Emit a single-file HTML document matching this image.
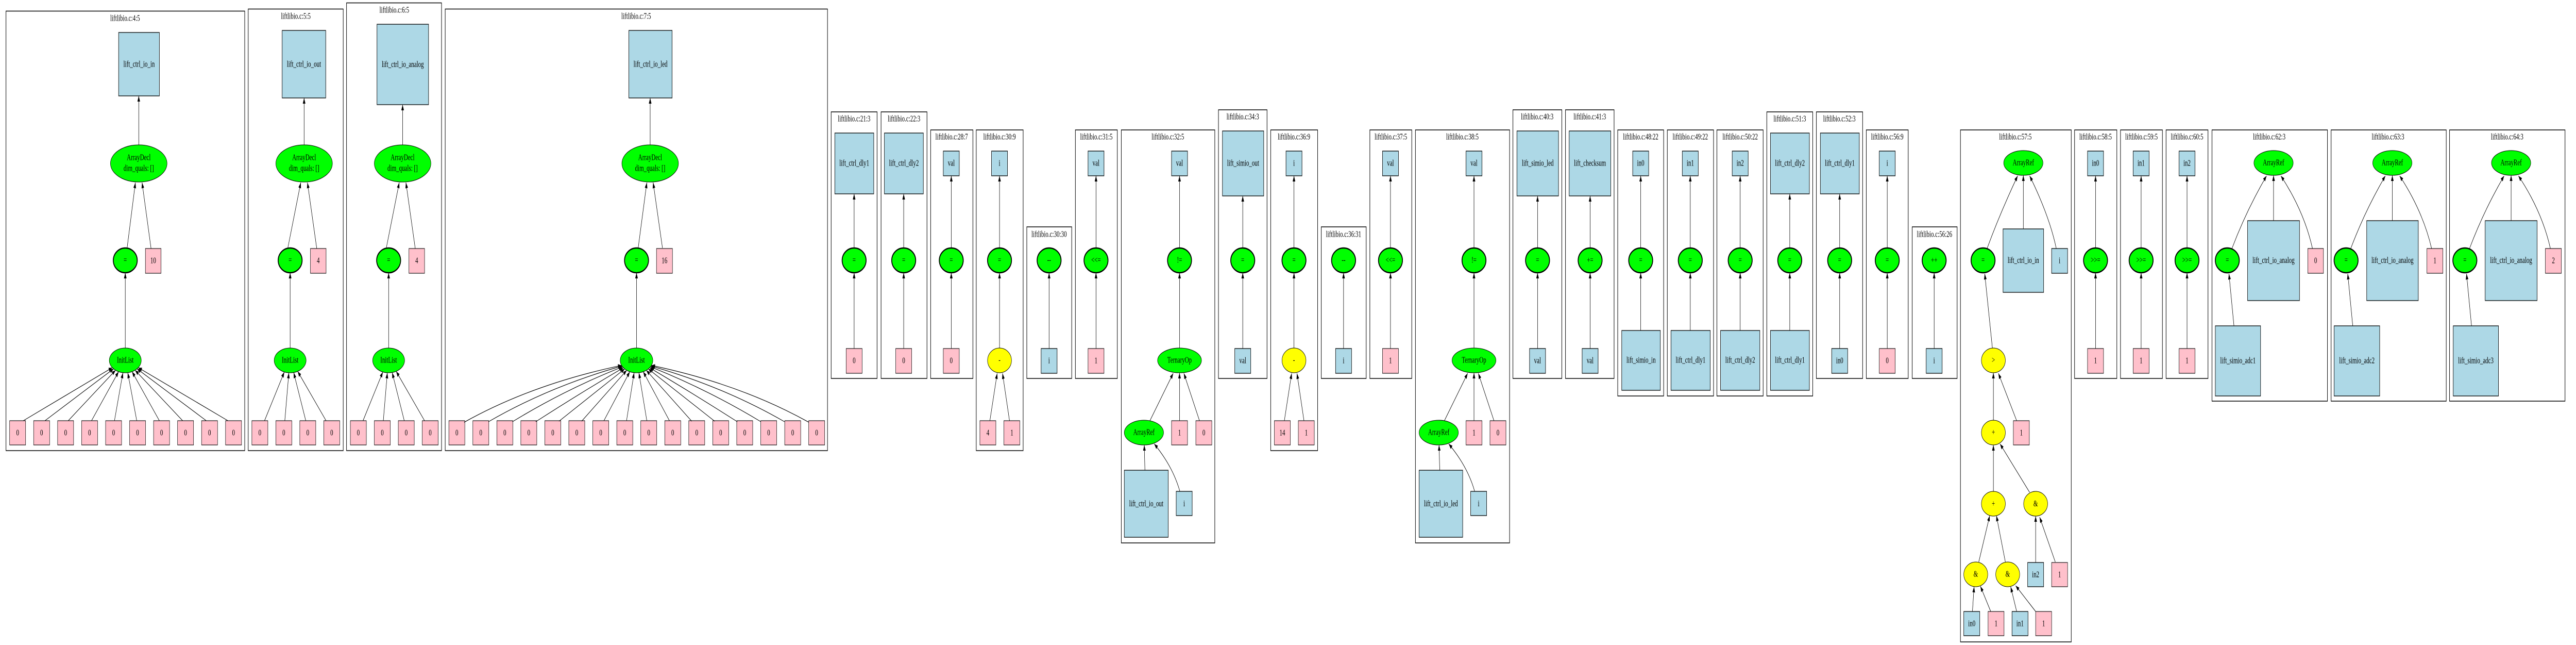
<!DOCTYPE html>
<html><head><meta charset="utf-8"><meta name="viewport" content="width=7742,initial-scale=1"><style>
html,body{margin:0;padding:0;background:#fff;overflow:hidden;width:100%;height:100%}
svg{display:block;position:fixed;left:0;top:0;width:100vw;height:100vh}
text{font-family:"Liberation Serif",serif;font-size:17px;text-anchor:middle;dominant-baseline:central;fill:#000}
.cl{fill:none;stroke:#000;stroke-width:1.5}
.b{fill:#add8e6;stroke:#000;stroke-width:1.3}
.p{fill:#ffc0cb;stroke:#000;stroke-width:1.1}
.g{fill:#00ff00;stroke:#000;stroke-width:1.1}
.g2{fill:#00ff00;stroke:#000;stroke-width:2.6}
.y{fill:#ffff00;stroke:#000;stroke-width:1.1}
.e{fill:none;stroke:#000;stroke-width:1.2;marker-end:url(#a)}
</style></head><body>
<svg viewBox="0 0 7742 1251" preserveAspectRatio="none" xmlns="http://www.w3.org/2000/svg">
<defs><marker id="a" markerWidth="11" markerHeight="8" refX="11" refY="4" orient="auto" markerUnits="userSpaceOnUse"><path d="M0,0L11,4L0,8z" fill="#000"/></marker></defs>

<!-- C1 -->
<rect class="cl" x="18" y="21.5" width="717.5" height="852.5"/>
<text x="376" y="36">liftlibio.c:4:5</text>
<rect class="b" x="356.5" y="63" width="122.5" height="123"/><text x="418" y="124.5">lift_ctrl_io_in</text>
<ellipse class="g" cx="417" cy="317" rx="85" ry="36"/><text x="417" y="306">ArrayDecl</text><text x="417" y="327">dim_quals: []</text>
<ellipse class="g2" cx="376.5" cy="505" rx="36" ry="24"/><text x="376.5" y="505">=</text>
<rect class="p" x="437" y="482" width="47" height="48"/><text x="460.5" y="506">10</text>
<ellipse class="g" cx="376.5" cy="699" rx="48" ry="24"/><text x="376.5" y="699">InitList</text>
<g>
<rect class="p" x="29" y="816" width="48" height="47"/><text x="53" y="840">0</text>
<rect class="p" x="101.1" y="816" width="48" height="47"/><text x="125.1" y="840">0</text>
<rect class="p" x="173.2" y="816" width="48" height="47"/><text x="197.2" y="840">0</text>
<rect class="p" x="245.3" y="816" width="48" height="47"/><text x="269.3" y="840">0</text>
<rect class="p" x="317.4" y="816" width="48" height="47"/><text x="341.4" y="840">0</text>
<rect class="p" x="389.5" y="816" width="48" height="47"/><text x="413.5" y="840">0</text>
<rect class="p" x="461.6" y="816" width="48" height="47"/><text x="485.6" y="840">0</text>
<rect class="p" x="533.7" y="816" width="48" height="47"/><text x="557.7" y="840">0</text>
<rect class="p" x="605.8" y="816" width="48" height="47"/><text x="629.8" y="840">0</text>
<rect class="p" x="677.9" y="816" width="48" height="47"/><text x="701.9" y="840">0</text>
</g>
<path class="e" d="M417,281L417,186"/><path class="e" d="M382,481L407,354"/><path class="e" d="M454,482L427,354"/><path class="e" d="M376.5,675L376.5,529"/>
<path class="e" d="M70,816L337.6,713.1"/><path class="e" d="M135,816L341.4,715.3"/><path class="e" d="M205,816L347.3,718.1"/><path class="e" d="M275,816L356.5,720.8"/><path class="e" d="M344,816L369.4,722.7"/><path class="e" d="M411,816L384,722.7"/><path class="e" d="M479,816L396.8,720.8"/><path class="e" d="M549,816L406,718.1"/><path class="e" d="M620,816L411.9,715.3"/><path class="e" d="M685,816L415.6,713.1"/>

<!-- C2 -->
<rect class="cl" x="746" y="17.5" width="285.5" height="856.5"/>
<text x="889" y="32">liftlibio.c:5:5</text>
<rect class="b" x="848" y="59" width="131" height="131"/><text x="913.5" y="124.5">lift_ctrl_io_out</text>
<ellipse class="g" cx="914" cy="317" rx="85" ry="36"/><text x="914" y="306">ArrayDecl</text><text x="914" y="327">dim_quals: []</text>
<ellipse class="g2" cx="872" cy="505" rx="36" ry="24"/><text x="872" y="505">=</text>
<rect class="p" x="933" y="482" width="47" height="48"/><text x="956.5" y="506">4</text>
<ellipse class="g" cx="872" cy="699" rx="48" ry="24"/><text x="872" y="699">InitList</text>
<rect class="p" x="757" y="816" width="48" height="47"/><text x="781" y="840">0</text>
<rect class="p" x="829" y="816" width="48" height="47"/><text x="853" y="840">0</text>
<rect class="p" x="901" y="816" width="48" height="47"/><text x="925" y="840">0</text>
<rect class="p" x="973" y="816" width="48" height="47"/><text x="997" y="840">0</text>
<path class="e" d="M914,281L914,190"/><path class="e" d="M865,481L904,354"/><path class="e" d="M952,482L924,354"/><path class="e" d="M872,675L872,529"/>
<path class="e" d="M795,816L854.6,721.4"/><path class="e" d="M856,816L868.1,722.9"/><path class="e" d="M919,816L882.6,722.4"/><path class="e" d="M980,816L894.6,720.2"/>

<!-- C3 -->
<rect class="cl" x="1041.5" y="5.6" width="285.5" height="868.4"/>
<text x="1185" y="20">liftlibio.c:6:5</text>
<rect class="b" x="1133" y="47" width="155" height="156"/><text x="1210.5" y="125">lift_ctrl_io_analog</text>
<ellipse class="g" cx="1210" cy="317" rx="85" ry="36"/><text x="1210" y="306">ArrayDecl</text><text x="1210" y="327">dim_quals: []</text>
<ellipse class="g2" cx="1168" cy="505" rx="36" ry="24"/><text x="1168" y="505">=</text>
<rect class="p" x="1229" y="482" width="47" height="48"/><text x="1252.5" y="506">4</text>
<ellipse class="g" cx="1168" cy="699" rx="48" ry="24"/><text x="1168" y="699">InitList</text>
<rect class="p" x="1053" y="816" width="48" height="47"/><text x="1077" y="840">0</text>
<rect class="p" x="1125" y="816" width="48" height="47"/><text x="1149" y="840">0</text>
<rect class="p" x="1197" y="816" width="48" height="47"/><text x="1221" y="840">0</text>
<rect class="p" x="1269" y="816" width="48" height="47"/><text x="1293" y="840">0</text>
<path class="e" d="M1210,281L1210,203"/><path class="e" d="M1161,481L1200,354"/><path class="e" d="M1248,482L1220,354"/><path class="e" d="M1168,675L1168,529"/>
<path class="e" d="M1091,816L1150.6,721.4"/><path class="e" d="M1152,816L1164.1,722.9"/><path class="e" d="M1215,816L1178.6,722.4"/><path class="e" d="M1276,816L1190.6,720.2"/>

<!-- C4 -->
<rect class="cl" x="1338" y="17.5" width="1149" height="856.5"/>
<text x="1912" y="32">liftlibio.c:7:5</text>
<rect class="b" x="1890" y="59" width="130" height="131"/><text x="1955" y="124.5">lift_ctrl_io_led</text>
<ellipse class="g" cx="1954" cy="317" rx="85" ry="36"/><text x="1954" y="306">ArrayDecl</text><text x="1954" y="327">dim_quals: []</text>
<ellipse class="g2" cx="1913" cy="505" rx="36" ry="24"/><text x="1913" y="505">=</text>
<rect class="p" x="1973" y="482" width="48" height="48"/><text x="1997" y="506">16</text>
<ellipse class="g" cx="1913" cy="699" rx="49" ry="24"/><text x="1913" y="699">InitList</text>
<g>
<rect class="p" x="1349" y="816" width="48" height="47"/><text x="1373" y="840">0</text>
<rect class="p" x="1421.1" y="816" width="48" height="47"/><text x="1445.1" y="840">0</text>
<rect class="p" x="1493.2" y="816" width="48" height="47"/><text x="1517.2" y="840">0</text>
<rect class="p" x="1565.3" y="816" width="48" height="47"/><text x="1589.3" y="840">0</text>
<rect class="p" x="1637.4" y="816" width="48" height="47"/><text x="1661.4" y="840">0</text>
<rect class="p" x="1709.5" y="816" width="48" height="47"/><text x="1733.5" y="840">0</text>
<rect class="p" x="1781.6" y="816" width="48" height="47"/><text x="1805.6" y="840">0</text>
<rect class="p" x="1853.7" y="816" width="48" height="47"/><text x="1877.7" y="840">0</text>
<rect class="p" x="1925.8" y="816" width="48" height="47"/><text x="1949.8" y="840">0</text>
<rect class="p" x="1997.9" y="816" width="48" height="47"/><text x="2021.9" y="840">0</text>
<rect class="p" x="2070" y="816" width="48" height="47"/><text x="2094" y="840">0</text>
<rect class="p" x="2142.1" y="816" width="48" height="47"/><text x="2166.1" y="840">0</text>
<rect class="p" x="2214.2" y="816" width="48" height="47"/><text x="2238.2" y="840">0</text>
<rect class="p" x="2286.3" y="816" width="48" height="47"/><text x="2310.3" y="840">0</text>
<rect class="p" x="2358.4" y="816" width="48" height="47"/><text x="2382.4" y="840">0</text>
<rect class="p" x="2430.5" y="816" width="48" height="47"/><text x="2454.5" y="840">0</text>
</g>
<path class="e" d="M1954,281L1954,190"/><path class="e" d="M1918,481L1944,354"/><path class="e" d="M1991,481L1963,354"/><path class="e" d="M1913,675L1913,529"/>
<path class="e" d="M1395,819Q1600,745 1868.2,708.7"/><path class="e" d="M1468,818Q1650,750 1869.4,709.9"/><path class="e" d="M1540,818Q1700,755 1871,711.4"/><path class="e" d="M1610,818Q1750,760 1873.6,713.3"/><path class="e" d="M1680,817L1877.5,715.5"/><path class="e" d="M1748,817L1883.6,718.2"/><path class="e" d="M1815,816L1892.9,720.9"/><path class="e" d="M1883,816L1905.8,722.7"/><path class="e" d="M1944,816L1920.2,722.7"/><path class="e" d="M2012,816L1933.1,720.9"/><path class="e" d="M2079,817L1942.4,718.2"/><path class="e" d="M2148,817L1948.5,715.5"/><path class="e" d="M2216,818Q2075,760 1952.4,713.3"/><path class="e" d="M2287,818Q2125,755 1955,711.4"/><path class="e" d="M2358,818Q2175,750 1956.6,709.9"/><path class="e" d="M2431,819Q2225,745 1957.8,708.7"/>

<!-- C5 -->
<rect class="cl" x="2498" y="217" width="138" height="517"/><text x="2567" y="231">liftlibio.c:21:3</text>
<rect class="b" x="2509" y="258" width="117" height="118"/><text x="2567.5" y="317">lift_ctrl_dly1</text>
<ellipse class="g2" cx="2567" cy="505" rx="36" ry="24"/><text x="2567" y="505">=</text>
<rect class="p" x="2543" y="676" width="48" height="48"/><text x="2567" y="700">0</text>
<path class="e" d="M2567,676L2567,529"/><path class="e" d="M2567,481L2567,376"/>
<!-- C6 -->
<rect class="cl" x="2648" y="217" width="138" height="517"/><text x="2717" y="231">liftlibio.c:22:3</text>
<rect class="b" x="2658" y="258" width="117" height="118"/><text x="2716.5" y="317">lift_ctrl_dly2</text>
<ellipse class="g2" cx="2716" cy="505" rx="36" ry="24"/><text x="2716" y="505">=</text>
<rect class="p" x="2692" y="676" width="48" height="48"/><text x="2716" y="700">0</text>
<path class="e" d="M2716,676L2716,529"/><path class="e" d="M2716,481L2716,376"/>
<!-- C7 -->
<rect class="cl" x="2797" y="252" width="127" height="482"/><text x="2860" y="266">liftlibio.c:28:7</text>
<rect class="b" x="2835" y="293" width="48" height="48"/><text x="2859" y="317">val</text>
<ellipse class="g2" cx="2859" cy="505" rx="36" ry="24"/><text x="2859" y="505">=</text>
<rect class="p" x="2835" y="676" width="48" height="48"/><text x="2859" y="700">0</text>
<path class="e" d="M2859,676L2859,529"/><path class="e" d="M2859,481L2859,341"/>
<!-- C8 -->
<rect class="cl" x="2934" y="252" width="141" height="622"/><text x="3004" y="266">liftlibio.c:30:9</text>
<rect class="b" x="2980" y="293" width="48" height="48"/><text x="3004" y="317">i</text>
<ellipse class="g2" cx="3004" cy="505" rx="36" ry="24"/><text x="3004" y="505">=</text>
<ellipse class="y" cx="3004" cy="699" rx="36" ry="24"/><text x="3004" y="699">-</text>
<rect class="p" x="2945" y="816" width="48" height="47"/><text x="2969" y="840">4</text>
<rect class="p" x="3017" y="816" width="48" height="47"/><text x="3041" y="840">1</text>
<path class="e" d="M3004,675L3004,529"/><path class="e" d="M3004,481L3004,341"/><path class="e" d="M2975,816L2997,724"/><path class="e" d="M3034,816L3013,724"/>
<!-- C9 -->
<rect class="cl" x="3086" y="440" width="135" height="294"/><text x="3153" y="455">liftlibio.c:30:30</text>
<ellipse class="g2" cx="3153" cy="505" rx="36" ry="24"/><text x="3153" y="505">--</text>
<rect class="b" x="3129" y="676" width="48" height="48"/><text x="3153" y="700">i</text>
<path class="e" d="M3153,676L3153,529"/>
<!-- C10 -->
<rect class="cl" x="3232" y="252" width="126" height="482"/><text x="3295" y="266">liftlibio.c:31:5</text>
<rect class="b" x="3270" y="293" width="48" height="48"/><text x="3294" y="317">val</text>
<ellipse class="g2" cx="3294" cy="505" rx="36" ry="24"/><text x="3294" y="505">&lt;&lt;=</text>
<rect class="p" x="3270" y="676" width="48" height="48"/><text x="3294" y="700">1</text>
<path class="e" d="M3294,676L3294,529"/><path class="e" d="M3294,481L3294,341"/>
<!-- C11 -->
<rect class="cl" x="3370" y="252" width="281" height="801"/><text x="3510" y="266">liftlibio.c:32:5</text>
<rect class="b" x="3521" y="293" width="48" height="48"/><text x="3545" y="317">val</text>
<ellipse class="g2" cx="3545" cy="505" rx="36" ry="24"/><text x="3545" y="505">!=</text>
<ellipse class="g" cx="3545" cy="699" rx="66" ry="24"/><text x="3545" y="699">TernaryOp</text>
<ellipse class="g" cx="3438" cy="839" rx="59" ry="24"/><text x="3438" y="839">ArrayRef</text>
<rect class="p" x="3521" y="816" width="48" height="47"/><text x="3545" y="840">1</text>
<rect class="p" x="3594" y="816" width="48" height="47"/><text x="3618" y="840">0</text>
<rect class="b" x="3379" y="912" width="132" height="130"/><text x="3445" y="977">lift_ctrl_io_out</text>
<rect class="b" x="3535" y="953" width="48" height="47"/><text x="3559" y="977">i</text>
<path class="e" d="M3545,481L3545,341"/><path class="e" d="M3545,675L3545,529"/><path class="e" d="M3456,816L3526,724"/><path class="e" d="M3545,816L3545,723"/><path class="e" d="M3605,816L3558,724"/><path class="e" d="M3441,912L3439,863"/><path class="e" d="M3546,953Q3525,905 3469,861"/>
<!-- C12 -->
<rect class="cl" x="3662" y="213" width="146" height="521"/><text x="3735" y="227">liftlibio.c:34:3</text>
<rect class="b" x="3674" y="254" width="124" height="126"/><text x="3736" y="317">lift_simio_out</text>
<ellipse class="g2" cx="3735" cy="505" rx="36" ry="24"/><text x="3735" y="505">=</text>
<rect class="b" x="3711" y="676" width="48" height="48"/><text x="3735" y="700">val</text>
<path class="e" d="M3735,676L3735,529"/><path class="e" d="M3735,481L3735,380"/>
<!-- C13 -->
<rect class="cl" x="3819" y="252" width="141" height="622"/><text x="3889" y="266">liftlibio.c:36:9</text>
<rect class="b" x="3865" y="293" width="48" height="48"/><text x="3889" y="317">i</text>
<ellipse class="g2" cx="3889" cy="505" rx="36" ry="24"/><text x="3889" y="505">=</text>
<ellipse class="y" cx="3889" cy="699" rx="36" ry="24"/><text x="3889" y="699">-</text>
<rect class="p" x="3830" y="816" width="48" height="47"/><text x="3854" y="840">14</text>
<rect class="p" x="3902" y="816" width="48" height="47"/><text x="3926" y="840">1</text>
<path class="e" d="M3889,675L3889,529"/><path class="e" d="M3889,481L3889,341"/><path class="e" d="M3860,816L3882,724"/><path class="e" d="M3919,816L3898,724"/>
<!-- C14 -->
<rect class="cl" x="3971" y="440" width="135" height="294"/><text x="4038" y="455">liftlibio.c:36:31</text>
<ellipse class="g2" cx="4038" cy="505" rx="36" ry="24"/><text x="4038" y="505">--</text>
<rect class="b" x="4014" y="676" width="48" height="48"/><text x="4038" y="700">i</text>
<path class="e" d="M4038,676L4038,529"/>
<!-- C15 -->
<rect class="cl" x="4117" y="252" width="126" height="482"/><text x="4180" y="266">liftlibio.c:37:5</text>
<rect class="b" x="4155" y="293" width="48" height="48"/><text x="4179" y="317">val</text>
<ellipse class="g2" cx="4179" cy="505" rx="36" ry="24"/><text x="4179" y="505">&lt;&lt;=</text>
<rect class="p" x="4155" y="676" width="48" height="48"/><text x="4179" y="700">1</text>
<path class="e" d="M4179,676L4179,529"/><path class="e" d="M4179,481L4179,341"/>
<!-- C16 -->
<rect class="cl" x="4254" y="252" width="283" height="801"/><text x="4395" y="266">liftlibio.c:38:5</text>
<rect class="b" x="4406" y="293" width="48" height="48"/><text x="4430" y="317">val</text>
<ellipse class="g2" cx="4430" cy="505" rx="36" ry="24"/><text x="4430" y="505">!=</text>
<ellipse class="g" cx="4430" cy="699" rx="66" ry="24"/><text x="4430" y="699">TernaryOp</text>
<ellipse class="g" cx="4324" cy="839" rx="59" ry="24"/><text x="4324" y="839">ArrayRef</text>
<rect class="p" x="4406" y="816" width="48" height="47"/><text x="4430" y="840">1</text>
<rect class="p" x="4478" y="816" width="48" height="47"/><text x="4502" y="840">0</text>
<rect class="b" x="4265" y="912" width="131" height="130"/><text x="4330.5" y="977">lift_ctrl_io_led</text>
<rect class="b" x="4420" y="953" width="48" height="47"/><text x="4444" y="977">i</text>
<path class="e" d="M4430,481L4430,341"/><path class="e" d="M4430,675L4430,529"/><path class="e" d="M4341,816L4411,724"/><path class="e" d="M4430,816L4430,723"/><path class="e" d="M4490,816L4443,724"/><path class="e" d="M4327,912L4325,863"/><path class="e" d="M4432,953Q4411,905 4354,861"/>
<!-- C17 -->
<rect class="cl" x="4547" y="213" width="147" height="521"/><text x="4620" y="227">liftlibio.c:40:3</text>
<rect class="b" x="4559" y="254" width="125" height="126"/><text x="4621.5" y="317">lift_simio_led</text>
<ellipse class="g2" cx="4621" cy="505" rx="36" ry="24"/><text x="4621" y="505">=</text>
<rect class="b" x="4597" y="676" width="48" height="48"/><text x="4621" y="700">val</text>
<path class="e" d="M4621,676L4621,529"/><path class="e" d="M4621,481L4621,380"/>
<!-- C18 -->
<rect class="cl" x="4705" y="213" width="146" height="521"/><text x="4778" y="227">liftlibio.c:41:3</text>
<rect class="b" x="4716" y="254" width="125" height="126"/><text x="4778.5" y="317">lift_checksum</text>
<ellipse class="g2" cx="4779" cy="505" rx="36" ry="24"/><text x="4779" y="505">+=</text>
<rect class="b" x="4755" y="676" width="48" height="48"/><text x="4779" y="700">val</text>
<path class="e" d="M4779,676L4779,529"/><path class="e" d="M4779,481L4779,380"/>
<!-- C19 -->
<rect class="cl" x="4862" y="252" width="138" height="516"/><text x="4931" y="266">liftlibio.c:48:22</text>
<rect class="b" x="4907" y="293" width="48" height="48"/><text x="4931" y="317">in0</text>
<ellipse class="g2" cx="4931" cy="505" rx="36" ry="24"/><text x="4931" y="505">=</text>
<rect class="b" x="4874" y="641" width="116" height="116"/><text x="4932" y="699">lift_simio_in</text>
<path class="e" d="M4931,641L4931,529"/><path class="e" d="M4931,481L4931,341"/>
<!-- C20 -->
<rect class="cl" x="5011" y="252" width="139" height="516"/><text x="5080" y="266">liftlibio.c:49:22</text>
<rect class="b" x="5056" y="293" width="48" height="48"/><text x="5080" y="317">in1</text>
<ellipse class="g2" cx="5080" cy="505" rx="36" ry="24"/><text x="5080" y="505">=</text>
<rect class="b" x="5022" y="641" width="118" height="116"/><text x="5081" y="699">lift_ctrl_dly1</text>
<path class="e" d="M5080,641L5080,529"/><path class="e" d="M5080,481L5080,341"/>
<!-- C21 -->
<rect class="cl" x="5160" y="252" width="139" height="516"/><text x="5230" y="266">liftlibio.c:50:22</text>
<rect class="b" x="5206" y="293" width="48" height="48"/><text x="5230" y="317">in2</text>
<ellipse class="g2" cx="5230" cy="505" rx="36" ry="24"/><text x="5230" y="505">=</text>
<rect class="b" x="5171" y="641" width="118" height="116"/><text x="5230" y="699">lift_ctrl_dly2</text>
<path class="e" d="M5230,641L5230,529"/><path class="e" d="M5230,481L5230,341"/>
<!-- C22 -->
<rect class="cl" x="5310" y="217" width="138" height="551"/><text x="5379" y="231">liftlibio.c:51:3</text>
<rect class="b" x="5321" y="258" width="117" height="118"/><text x="5379.5" y="317">lift_ctrl_dly2</text>
<ellipse class="g2" cx="5379" cy="505" rx="36" ry="24"/><text x="5379" y="505">=</text>
<rect class="b" x="5321" y="641" width="117" height="116"/><text x="5379.5" y="699">lift_ctrl_dly1</text>
<path class="e" d="M5379,641L5379,529"/><path class="e" d="M5379,481L5379,376"/>
<!-- C23 -->
<rect class="cl" x="5459" y="217" width="139" height="517"/><text x="5528" y="231">liftlibio.c:52:3</text>
<rect class="b" x="5471" y="258" width="117" height="118"/><text x="5529.5" y="317">lift_ctrl_dly1</text>
<ellipse class="g2" cx="5529" cy="505" rx="36" ry="24"/><text x="5529" y="505">=</text>
<rect class="b" x="5505" y="676" width="48" height="48"/><text x="5529" y="700">in0</text>
<path class="e" d="M5529,676L5529,529"/><path class="e" d="M5529,481L5529,376"/>
<!-- C24 -->
<rect class="cl" x="5609" y="252" width="126" height="482"/><text x="5672" y="266">liftlibio.c:56:9</text>
<rect class="b" x="5648" y="293" width="48" height="48"/><text x="5672" y="317">i</text>
<ellipse class="g2" cx="5672" cy="505" rx="36" ry="24"/><text x="5672" y="505">=</text>
<rect class="p" x="5648" y="676" width="48" height="48"/><text x="5672" y="700">0</text>
<path class="e" d="M5672,676L5672,529"/><path class="e" d="M5672,481L5672,341"/>
<!-- C25 -->
<rect class="cl" x="5747" y="440" width="135" height="294"/><text x="5814" y="455">liftlibio.c:56:26</text>
<ellipse class="g2" cx="5813" cy="505" rx="36" ry="24"/><text x="5813" y="505">++</text>
<rect class="b" x="5789" y="676" width="48" height="48"/><text x="5813" y="700">i</text>
<path class="e" d="M5813,676L5813,529"/>
<!-- C26 -->
<rect class="cl" x="5892" y="252" width="333" height="993"/><text x="6057" y="266">liftlibio.c:57:5</text>
<ellipse class="g" cx="6081" cy="316" rx="59" ry="24"/><text x="6081" y="316">ArrayRef</text>
<ellipse class="g2" cx="5960" cy="505" rx="36" ry="24"/><text x="5960" y="505">=</text>
<rect class="b" x="6020" y="444" width="122" height="123"/><text x="6081" y="505.5">lift_ctrl_io_in</text>
<rect class="b" x="6166" y="482" width="48" height="48"/><text x="6190" y="506">i</text>
<ellipse class="y" cx="5991" cy="699" rx="36" ry="24"/><text x="5991" y="699">&gt;</text>
<rect class="p" x="6051" y="816" width="48" height="47"/><text x="6075" y="840">1</text>
<ellipse class="y" cx="5991" cy="839" rx="36" ry="24"/><text x="5991" y="839">+</text>
<ellipse class="y" cx="5991" cy="977" rx="36" ry="24"/><text x="5991" y="977">+</text>
<ellipse class="y" cx="6118" cy="977" rx="36" ry="24"/><text x="6118" y="977">&amp;</text>
<ellipse class="y" cx="5938" cy="1114" rx="36" ry="24"/><text x="5938" y="1114">&amp;</text>
<ellipse class="y" cx="6034" cy="1114" rx="36" ry="24"/><text x="6034" y="1114">&amp;</text>
<rect class="b" x="6094" y="1091" width="48" height="47"/><text x="6118" y="1115">in2</text>
<rect class="p" x="6166" y="1091" width="48" height="47"/><text x="6190" y="1115">1</text>
<rect class="b" x="5902" y="1186" width="48" height="47"/><text x="5926" y="1210">in0</text>
<rect class="p" x="5975" y="1186" width="48" height="47"/><text x="5999" y="1210">1</text>
<rect class="b" x="6047" y="1186" width="48" height="47"/><text x="6071" y="1210">in1</text>
<rect class="p" x="6118" y="1186" width="48" height="47"/><text x="6142" y="1210">1</text>
<path class="e" d="M5972,482Q6010,415 6064,341"/><path class="e" d="M6081,444L6081,340"/><path class="e" d="M6180,482Q6160,420 6100,341"/>
<path class="e" d="M5988,675L5965,531"/><path class="e" d="M6061,816L6006,724"/><path class="e" d="M5991,815L5991,723"/><path class="e" d="M5991,953L5991,863"/><path class="e" d="M6100,955L6011,861"/>
<path class="e" d="M5947,1090L5980,1000"/><path class="e" d="M6027,1090L6000,1000"/><path class="e" d="M6118,1091L6118,1001"/><path class="e" d="M6177,1090L6130,1003"/>
<path class="e" d="M5928,1186L5933,1138"/><path class="e" d="M5983,1186L5952,1137"/><path class="e" d="M6061,1186L6043,1138"/><path class="e" d="M6118,1186L6058,1136"/>
<!-- C27 -->
<rect class="cl" x="6235" y="252" width="127" height="482"/><text x="6298" y="266">liftlibio.c:58:5</text>
<rect class="b" x="6274" y="293" width="48" height="48"/><text x="6298" y="317">in0</text>
<ellipse class="g2" cx="6298" cy="505" rx="36" ry="24"/><text x="6298" y="505">&gt;&gt;=</text>
<rect class="p" x="6274" y="676" width="48" height="48"/><text x="6298" y="700">1</text>
<path class="e" d="M6298,676L6298,529"/><path class="e" d="M6298,481L6298,341"/>
<!-- C28 -->
<rect class="cl" x="6373" y="252" width="126" height="482"/><text x="6436" y="266">liftlibio.c:59:5</text>
<rect class="b" x="6411" y="293" width="48" height="48"/><text x="6435" y="317">in1</text>
<ellipse class="g2" cx="6435" cy="505" rx="36" ry="24"/><text x="6435" y="505">&gt;&gt;=</text>
<rect class="p" x="6411" y="676" width="48" height="48"/><text x="6435" y="700">1</text>
<path class="e" d="M6435,676L6435,529"/><path class="e" d="M6435,481L6435,341"/>
<!-- C29 -->
<rect class="cl" x="6510" y="252" width="126" height="482"/><text x="6573" y="266">liftlibio.c:60:5</text>
<rect class="b" x="6549" y="293" width="48" height="48"/><text x="6573" y="317">in2</text>
<ellipse class="g2" cx="6573" cy="505" rx="36" ry="24"/><text x="6573" y="505">&gt;&gt;=</text>
<rect class="p" x="6549" y="676" width="48" height="48"/><text x="6573" y="700">1</text>
<path class="e" d="M6573,676L6573,529"/><path class="e" d="M6573,481L6573,341"/>
<!-- C30 -->
<rect class="cl" x="6648" y="252" width="347" height="526"/><text x="6820" y="266">liftlibio.c:62:3</text>
<ellipse class="g" cx="6833" cy="316" rx="59" ry="24"/><text x="6833" y="316">ArrayRef</text>
<ellipse class="g2" cx="6694" cy="505" rx="36" ry="24"/><text x="6694" y="505">=</text>
<rect class="b" x="6755" y="428" width="156" height="155"/><text x="6833" y="505.5">lift_ctrl_io_analog</text>
<rect class="p" x="6936" y="482" width="47" height="48"/><text x="6959.5" y="506">0</text>
<rect class="b" x="6658" y="632" width="136" height="136"/><text x="6726" y="700">lift_simio_adc1</text>
<path class="e" d="M6708,482Q6750,410 6812,341"/><path class="e" d="M6833,428L6833,340"/><path class="e" d="M6950,482Q6925,410 6855,341"/><path class="e" d="M6714,632L6699,531"/>
<!-- C31 -->
<rect class="cl" x="7006" y="252" width="346" height="526"/><text x="7177" y="266">liftlibio.c:63:3</text>
<ellipse class="g" cx="7190" cy="316" rx="59" ry="24"/><text x="7190" y="316">ArrayRef</text>
<ellipse class="g2" cx="7051" cy="505" rx="36" ry="24"/><text x="7051" y="505">=</text>
<rect class="b" x="7113" y="428" width="155" height="155"/><text x="7190.5" y="505.5">lift_ctrl_io_analog</text>
<rect class="p" x="7294" y="482" width="48" height="48"/><text x="7318" y="506">1</text>
<rect class="b" x="7015" y="632" width="137" height="136"/><text x="7083.5" y="700">lift_simio_adc2</text>
<path class="e" d="M7065,482Q7107,410 7169,341"/><path class="e" d="M7190,428L7190,340"/><path class="e" d="M7308,482Q7282,410 7212,341"/><path class="e" d="M7071,632L7056,531"/>
<!-- C32 -->
<rect class="cl" x="7362" y="252" width="347" height="526"/><text x="7535" y="266">liftlibio.c:64:3</text>
<ellipse class="g" cx="7547" cy="316" rx="59" ry="24"/><text x="7547" y="316">ArrayRef</text>
<ellipse class="g2" cx="7408" cy="505" rx="36" ry="24"/><text x="7408" y="505">=</text>
<rect class="b" x="7469" y="428" width="156" height="155"/><text x="7547" y="505.5">lift_ctrl_io_analog</text>
<rect class="p" x="7650" y="482" width="48" height="48"/><text x="7674" y="506">2</text>
<rect class="b" x="7373" y="632" width="136" height="136"/><text x="7441" y="700">lift_simio_adc3</text>
<path class="e" d="M7422,482Q7464,410 7526,341"/><path class="e" d="M7547,428L7547,340"/><path class="e" d="M7665,482Q7640,410 7569,341"/><path class="e" d="M7428,632L7413,531"/>
</svg>
</body></html>
